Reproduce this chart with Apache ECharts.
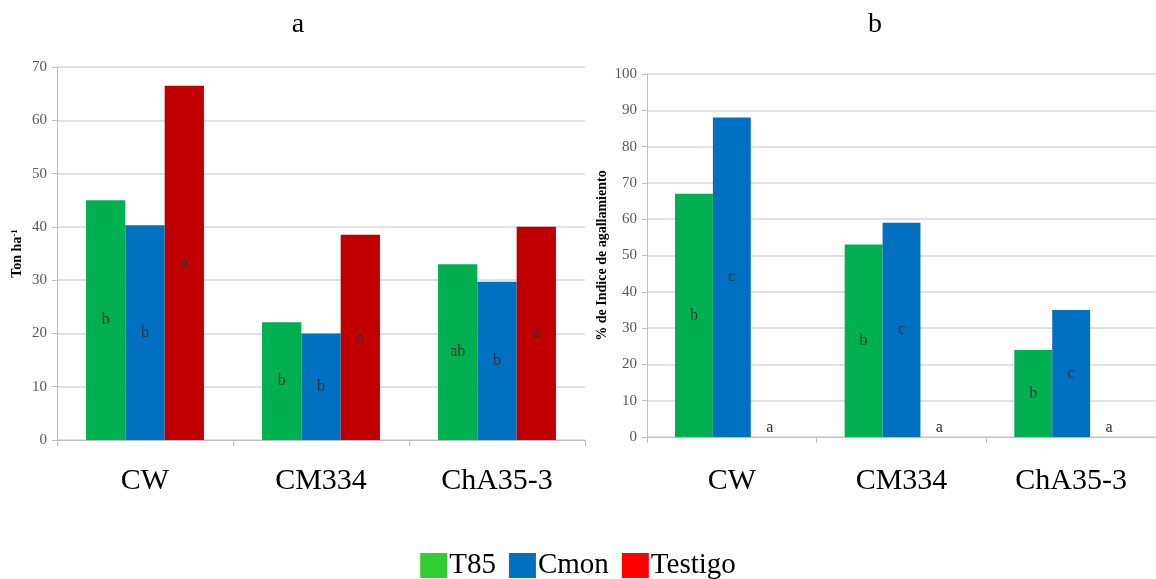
<!DOCTYPE html>
<html>
<head>
<meta charset="utf-8">
<script src="https://cdn.jsdelivr.net/npm/echarts@6/dist/echarts.min.js"></script>
<style>
    html, body { margin: 0; padding: 0; background: #fff; }
    #chart { width: 1156px; height: 579px; }
</style>
</head>
<body>
<div id="chart"></div>
<script>
// categorias y series
const categories = ['CW', 'CM334', 'ChA35-3']
const seriesNames = ['T85', 'Cmon', 'Testigo']

// a: rendimiento (Ton ha-1)
const yieldT85 = [45, 22.1, 33]
const yieldCmon = [40.3, 20, 29.7]
const yieldTestigo = [66.5, 38.5, 40]
const yieldLetters = [['b', 'b', 'ab'], ['b', 'b', 'b'], ['a', 'a', 'a']]

// b: % indice de agallamiento
const gallT85 = [67, 53, 24]
const gallCmon = [88, 59, 35]
const gallTestigo = [0, 0, 0]
const gallLetters = [['b', 'b', 'b'], ['c', 'c', 'c'], ['a', 'a', 'a']]

const barColors = ['#00B050', '#0070C0', '#C00000']
const legendColors = ['#33CC33', '#0070C0', '#FF0000']
const serif = 'Liberation Serif'

const chart = echarts.init(document.getElementById('chart'))

function makeSeries(values, letters, gridIdx) {
    return values.map((vals, i) => {
        return {
            name: seriesNames[i],
            type: 'bar',
            xAxisIndex: gridIdx,
            yAxisIndex: gridIdx,
            barGap: '0%',
            barCategoryGap: '33%',
            itemStyle: { color: barColors[i] },
            label: {
                show: true,
                // los testigos de b valen 0: letra sobre el eje
                position: gridIdx === 1 && i === 2 ? 'insideBottom' : 'inside',
                distance: 1,
                fontFamily: serif,
                fontSize: 16,
                color: '#333',
                formatter: p => letters[i][p.dataIndex]
            },
            data: vals
        }
    })
}

const xAxisBase = {
    type: 'category',
    data: categories,
    axisLine: { lineStyle: { color: '#bfbfbf' } },
    axisTick: { show: true, length: 6, lineStyle: { color: '#bfbfbf' } },
    axisLabel: { fontFamily: serif, fontSize: 30, color: '#000', margin: 26 }
}

const yAxisBase = {
    type: 'value',
    min: 0,
    interval: 10,
    nameLocation: 'middle',
    axisLine: { show: true, lineStyle: { color: '#bfbfbf' } },
    axisTick: { show: true, length: 5, lineStyle: { color: '#bfbfbf' } },
    axisLabel: { fontFamily: serif, fontSize: 15, color: '#595959', margin: 10 },
    splitLine: { lineStyle: { color: '#d9d9d9', width: 1.5 } }
}

const option = {
    animation: false,
    title: [
        { text: 'a', left: 293, top: 6, textAlign: 'center', textStyle: { fontFamily: serif, fontSize: 28, fontWeight: 'normal', color: '#000' } },
        { text: 'b', left: 870, top: 6, textAlign: 'center', textStyle: { fontFamily: serif, fontSize: 28, fontWeight: 'normal', color: '#000' } }
    ],
    legend: {
        left: 'center',
        top: 551,
        itemWidth: 27,
        itemHeight: 25,
        itemGap: 13,
        icon: 'rect',
        padding: 0,
        textStyle: { fontFamily: serif, fontSize: 29, color: '#000', padding: [0, 0, 0, -3] },
        data: seriesNames.map((n, i) => ({ name: n, itemStyle: { color: legendColors[i] } }))
    },
    grid: [
        { left: 57, top: 67, width: 528, bottom: 139 },
        { left: 647, top: 74, width: 514, bottom: 142 }
    ],
    xAxis: [
        Object.assign({ gridIndex: 0 }, xAxisBase),
        Object.assign({ gridIndex: 1 }, xAxisBase, {
            axisLabel: Object.assign({}, xAxisBase.axisLabel, { margin: 29 })
        })
    ],
    yAxis: [
        Object.assign({}, yAxisBase, {
            gridIndex: 0,
            max: 70,
            name: 'Ton ha{sup|-1}',
            nameGap: 33,
            nameTextStyle: {
                fontFamily: serif, fontSize: 14, fontWeight: 'bold', color: '#000',
                rich: { sup: { fontFamily: serif, fontSize: 9, fontWeight: 'bold', verticalAlign: 'top', color: '#000' } }
            }
        }),
        Object.assign({}, yAxisBase, {
            gridIndex: 1,
            max: 100,
            name: '% de Indice de agallamiento',
            nameGap: 38,
            nameTextStyle: { fontFamily: serif, fontSize: 14, fontWeight: 'bold', color: '#000' }
        })
    ],
    series: [
        ...makeSeries([yieldT85, yieldCmon, yieldTestigo], yieldLetters, 0),
        ...makeSeries([gallT85, gallCmon, gallTestigo], gallLetters, 1)
    ]
}

chart.setOption(option)
</script>
</body>
</html>
